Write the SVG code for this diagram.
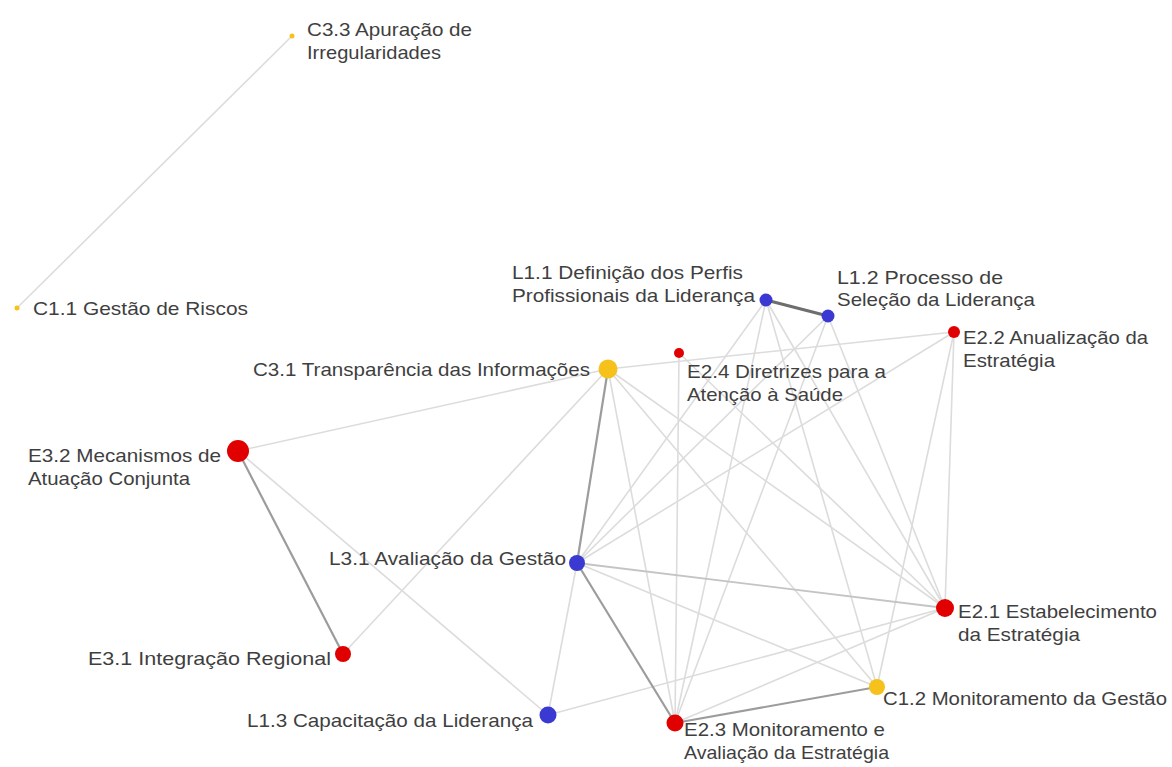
<svg xmlns="http://www.w3.org/2000/svg" width="1172" height="767" viewBox="0 0 1172 767">
  <style>
    .bg { fill: #ffffff; }
    .e { stroke: #dcdcdc; stroke-width: 1.6; fill: none; }
    .e2 { stroke: #c4c4c4; stroke-width: 1.8; fill: none; }
    .e3 { stroke: #9c9c9c; stroke-width: 2.2; fill: none; }
    .e4 { stroke: #6e6e6e; stroke-width: 3; fill: none; }
    .red { fill: #e00000; }
    .blue { fill: #3a3ad2; }
    .yel { fill: #f7c11b; }
    text { font-family: "Liberation Sans", Arial, sans-serif; font-size: 19px; fill: #3f3f3f; }
  </style>
  <rect class="bg" x="0" y="0" width="1172" height="767"/>

  <!-- connectors -->
  <g id="edges">
    <line class="e" x1="292" y1="36" x2="17" y2="308"/>
    <line class="e" x1="608" y1="369" x2="954" y2="332"/>
    <line class="e" x1="608" y1="369" x2="238" y2="451"/>
    <line class="e" x1="608" y1="369" x2="343" y2="654"/>
    <line class="e" x1="608" y1="369" x2="675" y2="723"/>
    <line class="e" x1="608" y1="369" x2="877" y2="687"/>
    <line class="e" x1="608" y1="369" x2="945" y2="608"/>
    <line class="e" x1="238" y1="451" x2="548" y2="715"/>
    <line class="e" x1="679" y1="353" x2="675" y2="723"/>
    <line class="e" x1="679" y1="353" x2="945" y2="608"/>
    <line class="e" x1="577" y1="563" x2="548" y2="715"/>
    <line class="e" x1="577" y1="563" x2="877" y2="687"/>
    <line class="e" x1="577" y1="563" x2="766" y2="300"/>
    <line class="e" x1="577" y1="563" x2="828" y2="316"/>
    <line class="e" x1="577" y1="563" x2="954" y2="332"/>
    <line class="e" x1="766" y1="300" x2="675" y2="723"/>
    <line class="e" x1="766" y1="300" x2="945" y2="608"/>
    <line class="e" x1="766" y1="300" x2="877" y2="687"/>
    <line class="e" x1="828" y1="316" x2="675" y2="723"/>
    <line class="e" x1="828" y1="316" x2="945" y2="608"/>
    <line class="e" x1="954" y1="332" x2="945" y2="608"/>
    <line class="e" x1="954" y1="332" x2="877" y2="687"/>
    <line class="e" x1="675" y1="723" x2="945" y2="608"/>
    <line class="e" x1="548" y1="715" x2="945" y2="608"/>
    <line class="e2" x1="577" y1="563" x2="945" y2="608"/>
    <line class="e3" x1="608" y1="369" x2="577" y2="563"/>
    <line class="e3" x1="577" y1="563" x2="675" y2="723"/>
    <line class="e3" x1="238" y1="451" x2="343" y2="654"/>
    <line class="e3" x1="675" y1="723" x2="877" y2="687"/>
    <line class="e4" x1="766" y1="300" x2="828" y2="316"/>
  </g>

  <g id="n-c33">
    <circle class="yel" cx="292" cy="36" r="2.5"/>
    <text x="307" y="36" textLength="165" lengthAdjust="spacingAndGlyphs">C3.3 Apuração de</text>
    <text x="307" y="59" textLength="134" lengthAdjust="spacingAndGlyphs">Irregularidades</text>
  </g>
  <g id="n-c11">
    <circle class="yel" cx="17" cy="308" r="2.5"/>
    <text x="33" y="315" textLength="215" lengthAdjust="spacingAndGlyphs">C1.1 Gestão de Riscos</text>
  </g>
  <g id="n-l11">
    <circle class="blue" cx="766" cy="300" r="6.5"/>
    <text x="512" y="279" textLength="231" lengthAdjust="spacingAndGlyphs">L1.1 Definição dos Perfis</text>
    <text x="512" y="302" textLength="243" lengthAdjust="spacingAndGlyphs">Profissionais da Liderança</text>
  </g>
  <g id="n-l12">
    <circle class="blue" cx="828" cy="316" r="6.5"/>
    <text x="837" y="284" textLength="166" lengthAdjust="spacingAndGlyphs">L1.2 Processo de</text>
    <text x="837" y="306" textLength="198" lengthAdjust="spacingAndGlyphs">Seleção da Liderança</text>
  </g>
  <g id="n-e22">
    <circle class="red" cx="954" cy="332" r="6"/>
    <text x="963" y="344" textLength="185" lengthAdjust="spacingAndGlyphs">E2.2 Anualização da</text>
    <text x="963" y="367" textLength="92" lengthAdjust="spacingAndGlyphs">Estratégia</text>
  </g>
  <g id="n-e24">
    <circle class="red" cx="679" cy="353" r="5"/>
    <text x="687" y="378" textLength="199" lengthAdjust="spacingAndGlyphs">E2.4 Diretrizes para a</text>
    <text x="687" y="401" textLength="156" lengthAdjust="spacingAndGlyphs">Atenção à Saúde</text>
  </g>
  <g id="n-c31">
    <circle class="yel" cx="608" cy="369" r="9.5"/>
    <text x="253" y="376" textLength="337" lengthAdjust="spacingAndGlyphs">C3.1 Transparência das Informações</text>
  </g>
  <g id="n-e32">
    <circle class="red" cx="238" cy="451" r="11"/>
    <text x="28" y="462" textLength="193" lengthAdjust="spacingAndGlyphs">E3.2 Mecanismos de</text>
    <text x="28" y="485" textLength="162" lengthAdjust="spacingAndGlyphs">Atuação Conjunta</text>
  </g>
  <g id="n-l31">
    <circle class="blue" cx="577" cy="563" r="8"/>
    <text x="329" y="565" textLength="237" lengthAdjust="spacingAndGlyphs">L3.1 Avaliação da Gestão</text>
  </g>
  <g id="n-e21">
    <circle class="red" cx="945" cy="608" r="9"/>
    <text x="958" y="618" textLength="199" lengthAdjust="spacingAndGlyphs">E2.1 Estabelecimento</text>
    <text x="958" y="641" textLength="122" lengthAdjust="spacingAndGlyphs">da Estratégia</text>
  </g>
  <g id="n-e31">
    <circle class="red" cx="343" cy="654" r="8"/>
    <text x="88" y="665" textLength="243" lengthAdjust="spacingAndGlyphs">E3.1 Integração Regional</text>
  </g>
  <g id="n-c12">
    <circle class="yel" cx="877" cy="687" r="8"/>
    <text x="883" y="705" textLength="284" lengthAdjust="spacingAndGlyphs">C1.2 Monitoramento da Gestão</text>
  </g>
  <g id="n-l13">
    <circle class="blue" cx="548" cy="715" r="8.5"/>
    <text x="247" y="727" textLength="286" lengthAdjust="spacingAndGlyphs">L1.3 Capacitação da Liderança</text>
  </g>
  <g id="n-e23">
    <circle class="red" cx="675" cy="723" r="8.5"/>
    <text x="684" y="736" textLength="201" lengthAdjust="spacingAndGlyphs">E2.3 Monitoramento e</text>
    <text x="684" y="759" textLength="205" lengthAdjust="spacingAndGlyphs">Avaliação da Estratégia</text>
  </g>
</svg>
